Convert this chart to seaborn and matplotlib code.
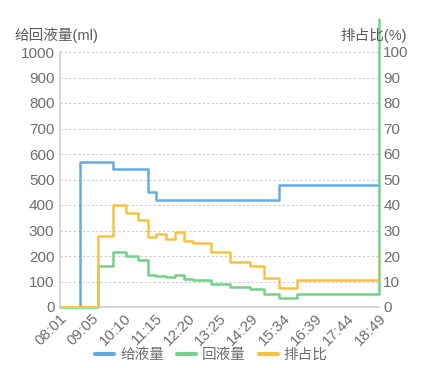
import matplotlib
matplotlib.use("Agg")
import matplotlib.pyplot as plt
import pandas as pd
import seaborn as sns

# Data
times = ["08:01", "08:42", "09:19", "09:49", "10:15", "10:39", "10:59", "11:17",
         "11:36", "11:54", "12:12", "12:31", "13:07", "13:46", "14:27", "14:55",
         "15:26", "16:02", "18:49"]
give_ml = [0, 570, 570, 540, 540, 540, 450, 420, 420, 420, 420, 420, 420, 420,
           420, 420, 480, 480, 480]
back_ml = [0, 0, 160, 215, 200, 185, 125, 120, 118, 125, 110, 105, 90, 77,
           70, 50, 35, 50, 1130]
ratio_pct = [0, 0, 28, 40, 37, 34, 27.5, 28.5, 26.5, 29.5, 26, 25, 21.5, 17.5,
             16, 11.3, 7.3, 10.5, 22]
tick_labels = ["08:01", "09:05", "10:10", "11:15", "12:20", "13:25", "14:29",
               "15:34", "16:39", "17:44", "18:49"]

blue, green, yellow = "#66aae2", "#75d088", "#f6c245"
text_gray = "#6e6e6e"


def to_min(t):
    h, m = t.split(":")
    return int(h) * 60 + int(m)


df = pd.DataFrame({
    "t": [to_min(t) for t in times],
    "give": give_ml,
    "back": back_ml,
    "ratio": ratio_pct,
})

sns.set_theme(style="white")
plt.rcParams["font.family"] = ["Liberation Sans", "Noto Sans CJK SC", "DejaVu Sans"]

fig = plt.figure(figsize=(4.23, 3.68), dpi=100)
ax = fig.add_axes([60 / 423, 1 - 307 / 368, 319 / 423, 255 / 368])
ax2 = ax.twinx()

sns.lineplot(data=df, x="t", y="give", ax=ax, color=blue, lw=1.8,
             drawstyle="steps-post", estimator=None, label="给液量", legend=False)
sns.lineplot(data=df, x="t", y="back", ax=ax, color=green, lw=1.8,
             drawstyle="steps-post", estimator=None, label="回液量", legend=False,
             clip_on=False)
sns.lineplot(data=df, x="t", y="ratio", ax=ax2, color=yellow, lw=1.8,
             drawstyle="steps-post", estimator=None, label="排占比", legend=False)

x0, x1 = to_min("08:01"), to_min("18:49")
ax.set_xlim(x0, x1)
ax.set_ylim(0, 1000)
ax2.set_ylim(0, 100)
ax.set_yticks(range(0, 1001, 100))
ax2.set_yticks(range(0, 101, 10))
tick_pos = [x0 + i * (x1 - x0) / 10 for i in range(11)]
ax.set_xticks(tick_pos)
ax.set_xticklabels(tick_labels, rotation=45, ha="right", rotation_mode="anchor")

ax.grid(axis="y", color="#cccccc", linestyle=(0, (2, 2)), lw=0.8)
ax.grid(axis="x", visible=False)
ax2.grid(False)
ax.set_xlabel("")
ax.set_ylabel("")
ax2.set_ylabel("")

for a in (ax, ax2):
    for s in a.spines.values():
        s.set_visible(False)
    a.tick_params(length=0, labelsize=11, labelcolor=text_gray, pad=4)
ax.spines["left"].set_visible(True)
ax.spines["bottom"].set_visible(True)
ax.spines["left"].set_color("#d0d0d0")
ax.spines["bottom"].set_color("#d0d0d0")
ax.tick_params(axis="x", pad=3)
ax2.tick_params(pad=3)
ax2.set_zorder(ax.get_zorder() + 1)

fig.text(14 / 423, 1 - 35 / 368, "给回液量(ml)", fontsize=10.5, color="#5a5a5a",
         ha="left", va="center")
fig.text(407 / 423, 1 - 35 / 368, "排占比(%)", fontsize=10.5, color="#5a5a5a",
         ha="right", va="center")

handles = [plt.Line2D([], [], color=c, lw=3) for c in (blue, green, yellow)]
fig.legend(handles, ["给液量", "回液量", "排占比"], loc="center",
           bbox_to_anchor=(0.5, 1 - 355 / 368), ncol=3, frameon=False,
           fontsize=10.5, labelcolor=text_gray, handlelength=1.3,
           handletextpad=0.4, columnspacing=0.9)

fig.savefig("out.png", dpi=100)
